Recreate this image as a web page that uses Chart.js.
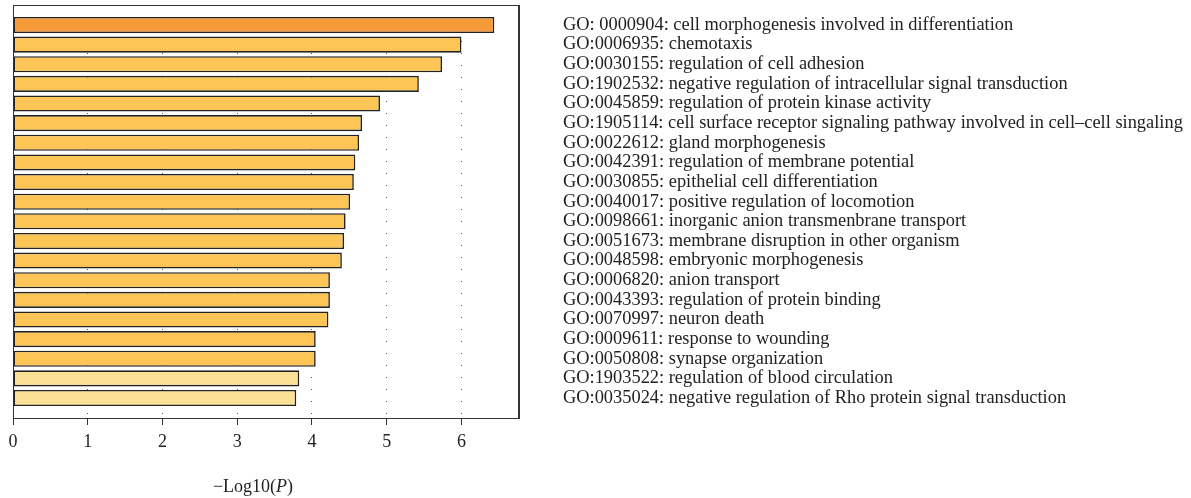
<!DOCTYPE html>
<html>
<head>
<meta charset="utf-8">
<script src="https://cdn.jsdelivr.net/npm/chart.js@4"></script>
<style>
  html, body { margin: 0; padding: 0; background: #fff; }
  #wrap { width: 1191px; height: 498px; }
</style>
</head>
<body>
<div id="wrap"><canvas id="goBar"></canvas></div>
<script>
// GO terms, top to bottom
const terms = [
    'GO: 0000904: cell morphogenesis involved in differentiation',
    'GO:0006935: chemotaxis',
    'GO:0030155: regulation of cell adhesion',
    'GO:1902532: negative regulation of intracellular signal transduction',
    'GO:0045859: regulation of protein kinase activity',
    'GO:1905114: cell surface receptor signaling pathway involved in cell\u2013cell singaling',
    'GO:0022612: gland morphogenesis',
    'GO:0042391: regulation of membrane potential',
    'GO:0030855: epithelial cell differentiation',
    'GO:0040017: positive regulation of locomotion',
    'GO:0098661: inorganic anion transmenbrane transport',
    'GO:0051673: membrane disruption in other organism',
    'GO:0048598: embryonic morphogenesis',
    'GO:0006820: anion transport',
    'GO:0043393: regulation of protein binding',
    'GO:0070997: neuron death',
    'GO:0009611: response to wounding',
    'GO:0050808: synapse organization',
    'GO:1903522: regulation of blood circulation',
    'GO:0035024: negative regulation of Rho protein signal transduction'
]
// -log10(P)
const logP = [6.44, 6.00, 5.74, 5.43, 4.91, 4.67, 4.63, 4.58, 4.56, 4.51,
              4.45, 4.43, 4.40, 4.24, 4.24, 4.22, 4.05, 4.05, 3.83, 3.79]
const xTicks = [0, 1, 2, 3, 4, 5, 6]

const serif = '"Liberation Serif", "DejaVu Serif", serif'

function barColor(c) {
    if (c.dataIndex === 0) return '#f79a38'
    if (c.dataIndex >= 18) return '#fbe196'
    return '#fcc556'
}

// box around the plot + axis title with italic P
const framePlugin = {
    id: 'frame',
    afterDraw(chart) {
        const {ctx, chartArea: a} = chart
        ctx.save()
        ctx.strokeStyle = '#333'
        ctx.lineWidth = 1
        ctx.strokeRect(a.left + 0.5, a.top + 0.5, a.right - a.left - 1, a.bottom - a.top)

        const parts = [['\u2212Log10(', 'normal'], ['P', 'italic'], [')', 'normal']]
        let w = 0
        parts.forEach(p => { ctx.font = p[1] + ' 18px ' + serif; w += ctx.measureText(p[0]).width })
        let x = 253 - w / 2
        ctx.fillStyle = '#222'
        ctx.textBaseline = 'middle'
        parts.forEach(p => {
            ctx.font = p[1] + ' 18px ' + serif
            ctx.fillText(p[0], x, 487)
            x += ctx.measureText(p[0]).width
        })
        ctx.restore()
    }
}

const ctx = document.getElementById('goBar')
const myChart = new Chart(ctx, {
    type: 'bar',
    data: {
        labels: terms,
        datasets: [{
            data: logP,
            backgroundColor: barColor,
            borderColor: '#222',
            borderWidth: 1.6,
            borderSkipped: false,
            barPercentage: 0.82,
            categoryPercentage: 1
        }]
    },
    options: {
        indexAxis: 'y',
        responsive: true,
        maintainAspectRatio: false,
        animation: false,
        layout: { padding: { left: 13, top: 5, right: 0, bottom: 0 } },
        plugins: {
            legend: { display: false },
            tooltip: { enabled: false }
        },
        scales: {
            x: {
                min: 0,
                max: 6.77,
                afterBuildTicks: s => { s.ticks = xTicks.map(v => ({ value: v })) },
                afterFit: s => { s.height = 80 },
                ticks: {
                    padding: 6,
                    color: '#222',
                    font: { family: serif, size: 18 }
                },
                grid: {
                    color: '#555',
                    tickLength: 7,
                    tickColor: '#333',
                    tickBorderDash: []
                },
                border: { display: true, color: '#333', dash: [1, 11] }
            },
            y: {
                position: 'right',
                // a little empty room above the first and below the last bar
                afterBuildTicks: s => { s._startValue = -1.02; s._valueRange = 21.04 },
                afterFit: s => { s.width = 672; s.paddingTop = 0; s.paddingBottom = 0 },
                // ticks hidden with the grid; tickLength only pushes the labels right
                grid: { display: false, drawTicks: true, tickLength: 44 },
                border: { display: true, color: '#333' },
                ticks: {
                    padding: 0,
                    color: '#222',
                    autoSkip: false,
                    font: { family: serif, size: 18.4 }
                }
            }
        }
    },
    plugins: [framePlugin]
})
</script>
</body>
</html>
